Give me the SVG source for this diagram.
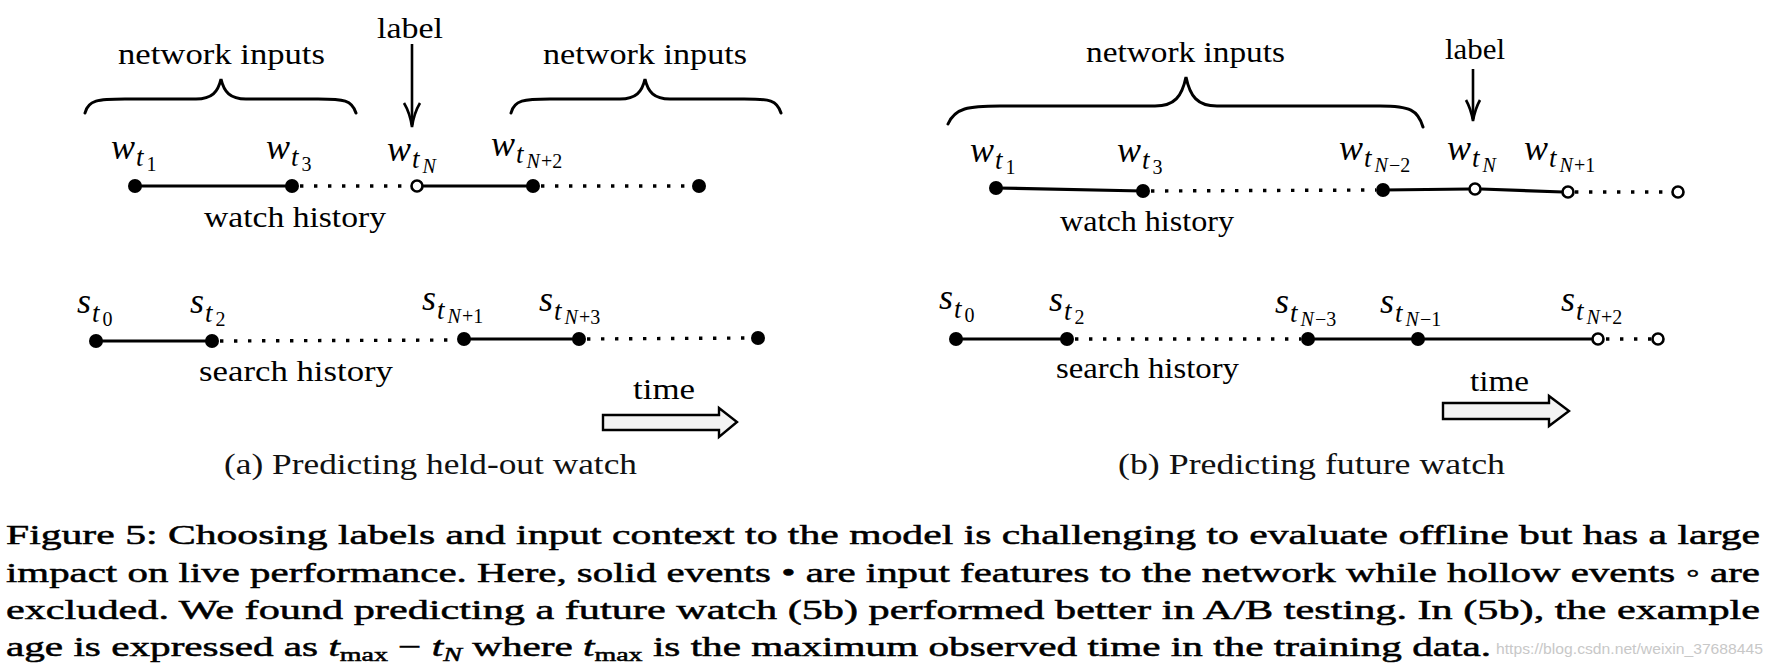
<svg xmlns="http://www.w3.org/2000/svg" width="1774" height="671" viewBox="0 0 1774 671">
  <style>
    .txt { font-family: "Liberation Serif", "Times New Roman", serif; font-size: 30px; fill: #000; }
    .sub { font-family: "Liberation Serif", "Times New Roman", serif; font-size: 29px; fill: #111; }
    .cap { font-family: "Liberation Serif", "Times New Roman", serif; font-size: 28px; fill: #000; stroke: #000; stroke-width: 0.5px; }
    .mv { font-family: "Liberation Serif", "Times New Roman", serif; font-style: italic; font-size: 36px; fill: #000; }
    .mt { font-style: italic; font-size: 27px; }
    .mi { font-style: italic; font-size: 20px; }
    .mn { font-style: normal; font-size: 20px; }
    .solid { stroke: #000; stroke-width: 3.2; fill: none; }
    .dots { stroke: #000; stroke-width: 3.4; stroke-dasharray: 3.4 10.6; fill: none; }
    .brace { stroke: #000; stroke-width: 3; fill: none; stroke-linecap: round; }
    .ev { fill: #000; }
    .hollow { fill: #fff; stroke: #000; stroke-width: 2.6; }
    .tarrow { fill: #f3f3f3; stroke: #000; stroke-width: 2.4; stroke-linejoin: miter; }
    .larrow { stroke: #000; stroke-width: 2.6; fill: none; }
    .wm { font-family: "Liberation Sans", Arial, sans-serif; font-size: 15px; fill: #c8c8c8; }
  </style>

  <!-- ===== (a) Predicting held-out watch ===== -->
  <g id="a-annotations">
    <text class="txt" x="118" y="64" textLength="207" lengthAdjust="spacingAndGlyphs">network inputs</text>
    <path class="brace" d="M85 113 C88 100 98 99 125 99 L196 99 C212 99 218 92 221 79 C224 92 230 99 246 99 L318 99 C344 99 352 100 356 113"/>
    <text class="txt" x="543" y="64" textLength="204" lengthAdjust="spacingAndGlyphs">network inputs</text>
    <path class="brace" d="M511 113 C514 100 524 99 550 99 L620 99 C636 99 642 92 645 79 C648 92 654 99 670 99 L744 99 C770 99 777 100 781 113"/>
    <text class="txt" x="377" y="38" textLength="66" lengthAdjust="spacingAndGlyphs">label</text>
    <line class="larrow" x1="412" y1="44" x2="412" y2="125"/>
    <path class="larrow" d="M404 103 Q410 113 412 127 Q414 113 420 103"/>
  </g>

  <g id="a-connectors">
    <line class="solid" x1="135" y1="186" x2="292" y2="186"/>
    <line class="dots" x1="300" y1="186" x2="410" y2="186"/>
    <line class="solid" x1="418" y1="186" x2="533" y2="186"/>
    <line class="dots" x1="541" y1="186" x2="692" y2="186"/>
    <line class="solid" x1="96" y1="341" x2="212" y2="341"/>
    <line class="dots" x1="220" y1="341" x2="458" y2="340"/>
    <line class="solid" x1="464" y1="339" x2="579" y2="339"/>
    <line class="dots" x1="587" y1="339" x2="752" y2="338"/>
  </g>

  <g id="a-watch">
    <circle class="ev" cx="135" cy="186" r="7"/>
    <circle class="ev" cx="292" cy="186" r="7"/>
    <circle class="hollow" cx="417" cy="186" r="5.5"/>
    <circle class="ev" cx="533" cy="186" r="7"/>
    <circle class="ev" cx="699" cy="186" r="7"/>
    <text class="mv" x="111" y="159">w<tspan class="mt" dx="1" y="166">t</tspan><tspan class="mn" dx="3" y="171">1</tspan></text>
    <text class="mv" x="266" y="159">w<tspan class="mt" dx="1" y="166">t</tspan><tspan class="mn" dx="3" y="171">3</tspan></text>
    <text class="mv" x="387" y="161">w<tspan class="mt" dx="1" y="168">t</tspan><tspan class="mi" dx="3" y="173">N</tspan></text>
    <text class="mv" x="491" y="156">w<tspan class="mt" dx="1" y="163">t</tspan><tspan class="mi" dx="3" y="168">N</tspan><tspan class="mn" dx="1">+2</tspan></text>
    <text class="txt" x="204" y="227" textLength="182" lengthAdjust="spacingAndGlyphs">watch history</text>
  </g>

  <g id="a-search">
    <circle class="ev" cx="96" cy="341" r="7"/>
    <circle class="ev" cx="212" cy="341" r="7"/>
    <circle class="ev" cx="464" cy="339" r="7"/>
    <circle class="ev" cx="579" cy="339" r="7"/>
    <circle class="ev" cx="758" cy="338" r="7"/>
    <text class="mv" x="77" y="313">s<tspan class="mt" dx="1" y="322">t</tspan><tspan class="mn" dx="3" y="326">0</tspan></text>
    <text class="mv" x="190" y="313">s<tspan class="mt" dx="1" y="322">t</tspan><tspan class="mn" dx="3" y="326">2</tspan></text>
    <text class="mv" x="422" y="310">s<tspan class="mt" dx="1" y="319">t</tspan><tspan class="mi" dx="3" y="323">N</tspan><tspan class="mn" dx="1">+1</tspan></text>
    <text class="mv" x="539" y="311">s<tspan class="mt" dx="1" y="320">t</tspan><tspan class="mi" dx="3" y="324">N</tspan><tspan class="mn" dx="1">+3</tspan></text>
    <text class="txt" x="199" y="381" textLength="194" lengthAdjust="spacingAndGlyphs">search history</text>
  </g>

  <g id="a-time">
    <text class="txt" x="633" y="399" textLength="62" lengthAdjust="spacingAndGlyphs">time</text>
    <path class="tarrow" d="M603 415 L719 415 L719 408 L737 422 L719 437 L719 430 L603 430 Z"/>
  </g>

  <text id="a-title" class="sub" x="224" y="474" textLength="413" lengthAdjust="spacingAndGlyphs">(a) Predicting held-out watch</text>

  <!-- ===== (b) Predicting future watch ===== -->
  <g id="b-annotations">
    <text class="txt" x="1086" y="62" textLength="199" lengthAdjust="spacingAndGlyphs">network inputs</text>
    <path class="brace" d="M948 124 C955 108 968 106 1000 106 L1155 106 C1175 106 1182 96 1186 77 C1190 96 1197 106 1217 106 L1380 106 C1410 106 1418 110 1423 127"/>
    <text class="txt" x="1445" y="59" textLength="60" lengthAdjust="spacingAndGlyphs">label</text>
    <line class="larrow" x1="1473" y1="69" x2="1473" y2="119"/>
    <path class="larrow" d="M1466 100 Q1471 109 1473 121 Q1475 109 1480 100"/>
  </g>

  <g id="b-connectors">
    <line class="solid" x1="996" y1="188" x2="1143" y2="191"/>
    <line class="dots" x1="1151" y1="191" x2="1376" y2="190"/>
    <line class="solid" x1="1383" y1="190" x2="1470" y2="189"/>
    <line class="solid" x1="1481" y1="189" x2="1563" y2="192"/>
    <line class="dots" x1="1575" y1="192" x2="1670" y2="192"/>
    <line class="solid" x1="956" y1="339" x2="1067" y2="339"/>
    <line class="dots" x1="1075" y1="339" x2="1301" y2="339"/>
    <line class="solid" x1="1308" y1="339" x2="1593" y2="339"/>
    <line class="dots" x1="1606" y1="339" x2="1652" y2="339"/>
  </g>

  <g id="b-watch">
    <circle class="ev" cx="996" cy="188" r="7"/>
    <circle class="ev" cx="1143" cy="191" r="7"/>
    <circle class="ev" cx="1383" cy="190" r="7"/>
    <circle class="hollow" cx="1475" cy="189" r="5.5"/>
    <circle class="hollow" cx="1568" cy="192" r="5.5"/>
    <circle class="hollow" cx="1678" cy="192" r="5.5"/>
    <text class="mv" x="970" y="162">w<tspan class="mt" dx="1" y="169">t</tspan><tspan class="mn" dx="3" y="174">1</tspan></text>
    <text class="mv" x="1117" y="162">w<tspan class="mt" dx="1" y="169">t</tspan><tspan class="mn" dx="3" y="174">3</tspan></text>
    <text class="mv" x="1339" y="160">w<tspan class="mt" dx="1" y="167">t</tspan><tspan class="mi" dx="3" y="172">N</tspan><tspan class="mn" dx="1">−2</tspan></text>
    <text class="mv" x="1447" y="160">w<tspan class="mt" dx="1" y="167">t</tspan><tspan class="mi" dx="3" y="172">N</tspan></text>
    <text class="mv" x="1524" y="160">w<tspan class="mt" dx="1" y="167">t</tspan><tspan class="mi" dx="3" y="172">N</tspan><tspan class="mn" dx="1">+1</tspan></text>
    <text class="txt" x="1060" y="231" textLength="174" lengthAdjust="spacingAndGlyphs">watch history</text>
  </g>

  <g id="b-search">
    <circle class="ev" cx="956" cy="339" r="7"/>
    <circle class="ev" cx="1067" cy="339" r="7"/>
    <circle class="ev" cx="1308" cy="339" r="7"/>
    <circle class="ev" cx="1418" cy="339" r="7"/>
    <circle class="hollow" cx="1598" cy="339" r="5.5"/>
    <circle class="hollow" cx="1658" cy="339" r="5.5"/>
    <text class="mv" x="939" y="309">s<tspan class="mt" dx="1" y="318">t</tspan><tspan class="mn" dx="3" y="322">0</tspan></text>
    <text class="mv" x="1049" y="311">s<tspan class="mt" dx="1" y="320">t</tspan><tspan class="mn" dx="3" y="324">2</tspan></text>
    <text class="mv" x="1275" y="313">s<tspan class="mt" dx="1" y="322">t</tspan><tspan class="mi" dx="3" y="326">N</tspan><tspan class="mn" dx="1">−3</tspan></text>
    <text class="mv" x="1380" y="313">s<tspan class="mt" dx="1" y="322">t</tspan><tspan class="mi" dx="3" y="326">N</tspan><tspan class="mn" dx="1">−1</tspan></text>
    <text class="mv" x="1561" y="311">s<tspan class="mt" dx="1" y="320">t</tspan><tspan class="mi" dx="3" y="324">N</tspan><tspan class="mn" dx="1">+2</tspan></text>
    <text class="txt" x="1056" y="378" textLength="183" lengthAdjust="spacingAndGlyphs">search history</text>
  </g>

  <g id="b-time">
    <text class="txt" x="1470" y="391" textLength="59" lengthAdjust="spacingAndGlyphs">time</text>
    <path class="tarrow" d="M1443 403 L1549 403 L1549 396 L1569 411 L1549 426 L1549 419 L1443 419 Z"/>
  </g>

  <text id="b-title" class="sub" x="1118" y="474" textLength="387" lengthAdjust="spacingAndGlyphs">(b) Predicting future watch</text>

  <!-- ===== caption ===== -->
  <g id="caption">
    <text class="cap" x="6" y="544" textLength="1754" lengthAdjust="spacingAndGlyphs">Figure 5: Choosing labels and input context to the model is challenging to evaluate offline but has a large</text>
    <text class="cap" x="6" y="582" textLength="1754" lengthAdjust="spacingAndGlyphs">impact on live performance. Here, solid events • are input features to the network while hollow events ◦ are</text>
    <text class="cap" x="6" y="619" textLength="1754" lengthAdjust="spacingAndGlyphs">excluded. We found predicting a future watch (5b) performed better in A/B testing. In (5b), the example</text>
    <text class="cap" x="6" y="656" textLength="1485" lengthAdjust="spacingAndGlyphs">age is expressed as <tspan font-style="italic">t</tspan><tspan font-size="19" dy="5">max</tspan><tspan dy="-5"> − </tspan><tspan font-style="italic">t</tspan><tspan font-style="italic" font-size="19" dy="5">N</tspan><tspan dy="-5"> where </tspan><tspan font-style="italic">t</tspan><tspan font-size="19" dy="5">max</tspan><tspan dy="-5"> is the maximum observed time in the training data.</tspan></text>
    <text class="wm" x="1496" y="654" textLength="267" lengthAdjust="spacingAndGlyphs">https://blog.csdn.net/weixin_37688445</text>
  </g>
</svg>
